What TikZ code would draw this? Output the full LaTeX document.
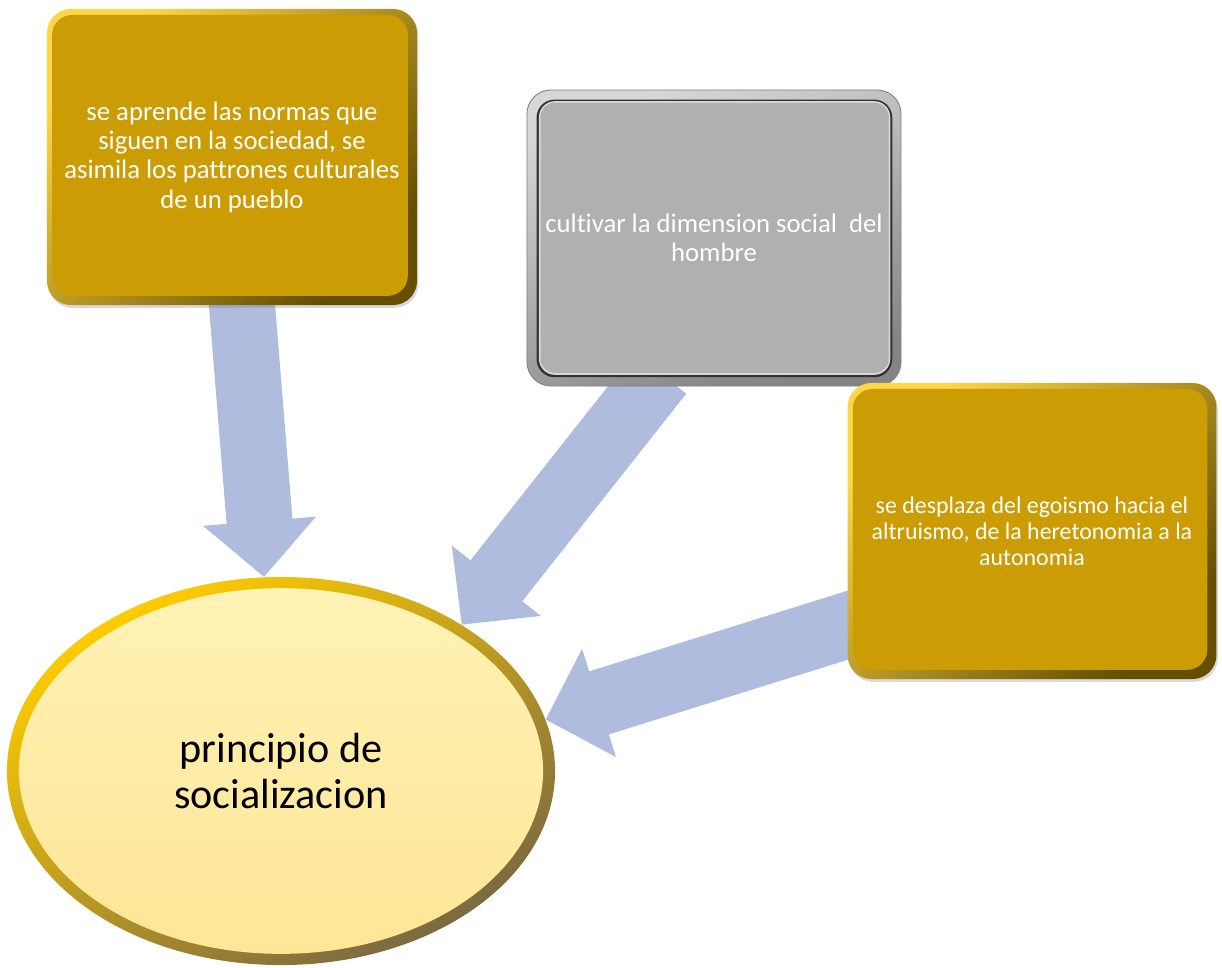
\documentclass[tikz,border=0pt]{standalone}
\usepackage{fontspec}
\setmainfont{Carlito}[Ligatures=NoCommon]
\usetikzlibrary{arrows.meta,calc,backgrounds,shadows,shapes.geometric}

\definecolor{boxgold}{RGB}{204,156,5}
\definecolor{goldlight}{RGB}{255,214,70}
\definecolor{golddark}{RGB}{100,78,0}
\definecolor{boxgray}{RGB}{176,176,176}
\definecolor{grayring}{RGB}{165,165,165}
\definecolor{graydark}{RGB}{50,50,50}
\definecolor{graylight}{RGB}{215,215,215}
\definecolor{arrowblue}{RGB}{175,188,221}
\definecolor{ellfill}{RGB}{255,229,150}
\definecolor{elllight}{RGB}{255,243,182}
\definecolor{ringtop}{RGB}{255,205,0}
\definecolor{ringbot}{RGB}{122,104,66}

\begin{document}
\begin{tikzpicture}[x=0.025cm,y=-0.025cm,
    goldbox/.style={rounded corners=0.6cm, minimum width=9.25cm, minimum height=7.4cm,
        inner sep=0pt, text=white, align=center,
        drop shadow={shadow xshift=1pt, shadow yshift=-2pt, opacity=.3},
        top color=goldlight, bottom color=golddark, shading angle=45,
        path picture={\fill[boxgold, rounded corners=0.5cm]
            ([shift={(0.13cm,-0.15cm)}]path picture bounding box.north west) rectangle
            ([shift={(-0.23cm,0.23cm)}]path picture bounding box.south east);}},
    graybox/.style={rounded corners=0.6cm, minimum width=9.35cm, minimum height=7.4cm,
        inner sep=0pt, text=white, align=center,
        top color=graylight, bottom color=grayring!80!black, shading angle=20,
        draw=gray, line width=0.6pt,
        path picture={
            \fill[graydark, rounded corners=0.45cm]
                ([shift={(0.24cm,-0.24cm)}]path picture bounding box.north west) rectangle
                ([shift={(-0.22cm,0.22cm)}]path picture bounding box.south east);
            \fill[graylight, rounded corners=0.4cm]
                ([shift={(0.3cm,-0.28cm)}]path picture bounding box.north west) rectangle
                ([shift={(-0.27cm,0.28cm)}]path picture bounding box.south east);
            \fill[boxgray, rounded corners=0.35cm]
                ([shift={(0.34cm,-0.32cm)}]path picture bounding box.north west) rectangle
                ([shift={(-0.31cm,0.33cm)}]path picture bounding box.south east);}},
    bigcircle/.style={ellipse, minimum width=13.7cm, minimum height=9.7cm, inner sep=0pt,
        align=center, top color=ringtop, bottom color=ringbot, shading angle=30,
        path picture={\shade[top color=elllight, bottom color=ellfill]
            (path picture bounding box.center) ellipse [x radius=6.55cm, y radius=4.57cm];}},
    flow/.style={draw=arrowblue, line width=1.65cm, shorten <=-12pt,
        -{Triangle[width=2.75cm,length=1.4cm]}}]
    \useasboundingbox (0,0) rectangle (1222,967);

    \node[goldbox, font=\fontsize{19}{20.8}\selectfont] (A) at (232,157)
        {se aprende las normas que\\siguen en la sociedad, se\\asimila los pattrones culturales\\de un pueblo};
    \node[graybox, font=\fontsize{19}{21}\selectfont] (B) at (714,238)
        {cultivar la dimension social~ del\\hombre};
    \node[goldbox, minimum width=9.22cm, font=\fontsize{17}{18.6}\selectfont] (C) at (1032,531)
        {se desplaza del egoismo hacia el\\altruismo, de la heretonomia a la\\autonomia};
    \node[bigcircle, font=\fontsize{30}{32.8}\selectfont] (soc) at (281,771)
        {principio de\\socializacion};

    % arrows under the boxes
    \begin{scope}[on background layer]
        \draw[flow] ($(A.south west)!0.527!(A.south east)$) -- (soc.95);
        \draw[flow] ($(B.south west)!0.329!(B.south east)$) -- (soc.39);
        \draw[flow] ($(C.north west)!0.818!(C.south west)$) -- (soc.11);
    \end{scope}
\end{tikzpicture}
\end{document}
